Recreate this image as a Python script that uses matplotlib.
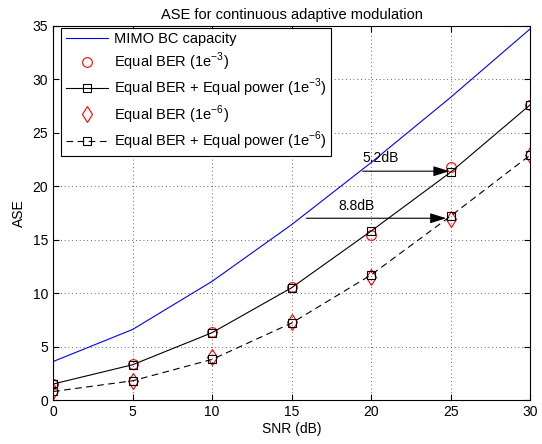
import numpy as np
import matplotlib
matplotlib.use('Agg')
import matplotlib.pyplot as plt

plt.rcParams['font.family'] = ['Liberation Sans', 'DejaVu Sans']
plt.rcParams['mathtext.fontset'] = 'custom'
plt.rcParams['mathtext.rm'] = 'Liberation Sans'

snr = [0, 5, 10, 15, 20, 25, 30]
capacity = [3.6, 6.6, 11.1, 16.4, 22.2, 28.3, 34.7]
ber3 = [1.5, 3.4, 6.4, 10.6, 15.4, 21.8, 27.6]
ber3_eqp = [1.5, 3.3, 6.3, 10.5, 15.8, 21.3, 27.6]
ber6 = [0.8, 1.8, 4.0, 7.3, 11.5, 16.9, 22.9]
ber6_eqp = [0.8, 1.8, 3.8, 7.2, 11.7, 17.2, 22.9]

fig = plt.figure(figsize=(5.42, 4.44), dpi=100)
ax = fig.add_axes([0.098, 0.099, 0.880, 0.843])

ax.plot(snr, capacity, '-', color='blue', lw=0.8, label='MIMO BC capacity')
ax.plot(snr, ber3, 'o', color='red', mfc='none', ms=7, mew=0.8,
        linestyle='none', label=r'Equal BER (1e$^{-3}$)')
ax.plot(snr, ber3_eqp, '-s', color='black', mfc='none', ms=6, mew=0.8, lw=0.8,
        label=r'Equal BER + Equal power (1e$^{-3}$)')
ax.plot(snr, ber6, 'd', color='red', mfc='none', ms=8, mew=0.8,
        linestyle='none', label=r'Equal BER (1e$^{-6}$)')
ax.plot(snr, ber6_eqp, '--s', color='black', mfc='none', ms=6, mew=0.8, lw=0.8,
        dashes=(6, 4), label=r'Equal BER + Equal power (1e$^{-6}$)')

# gain arrows
arrow = dict(arrowstyle='-|>,head_length=0.7,head_width=0.22', color='black',
             lw=0.8, mutation_scale=14)
ax.annotate('', xy=(25.1, 21.4), xytext=(19.3, 21.4), arrowprops=arrow)
ax.annotate('', xy=(24.9, 17.0), xytext=(15.75, 17.0), arrowprops=arrow)
ax.text(20.6, 22.0, '5.2dB', fontsize=10, ha='center', va='bottom')
ax.text(19.1, 17.5, '8.8dB', fontsize=10, ha='center', va='bottom')

ax.set_xlim(0, 30)
ax.set_ylim(0, 35)
ax.set_xticks(np.arange(0, 31, 5))
ax.set_yticks(np.arange(0, 36, 5))
ax.grid(True, linestyle=(0, (1, 3.5)), color='#333333', lw=0.6)
ax.tick_params(direction='in', top=True, right=True, labelsize=10, length=4)
ax.set_xlabel('SNR (dB)', fontsize=10, labelpad=2)
ax.set_ylabel('ASE', fontsize=10, labelpad=5)
ax.set_title('ASE for continuous adaptive modulation', fontsize=10.5, pad=5)

leg = ax.legend(loc='upper left', bbox_to_anchor=(0.017, 0.994), borderaxespad=0,
                fontsize=10.5, handlelength=2.9, fancybox=False,
                edgecolor='black', framealpha=1,
                labelspacing=0.28, handletextpad=0.4, borderpad=0.3)
leg.get_frame().set_linewidth(0.8)

fig.savefig('out.png', dpi=100)
